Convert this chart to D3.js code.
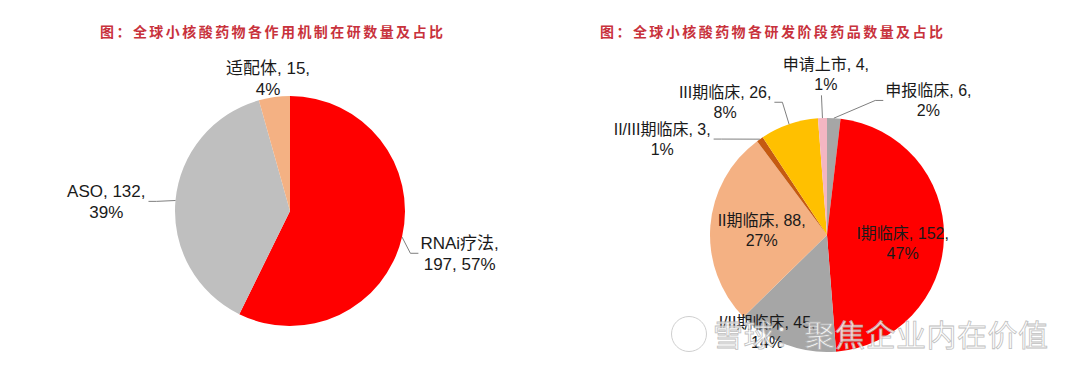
<!DOCTYPE html>
<html>
<head>
<meta charset="utf-8">
<script src="https://cdn.jsdelivr.net/npm/d3@7/dist/d3.min.js"></script>
<style>
  body { margin: 0; background: #fff; }
  svg { display: block; }
  .lbl { font-family: "Liberation Sans", Arial, "Noto Sans CJK SC", sans-serif; fill: #1a1a1a; }
  .title { font-family: "Noto Sans CJK SC", sans-serif; font-weight: bold; fill: #c8323c; }
</style>
</head>
<body>
<svg id="chart" width="1080" height="369"></svg>
<script>
// left pie: mechanism of action
var mechNames = ["RNAi疗法", "ASO", "适配体"];
var mechCounts = [197, 132, 15];
var mechPct = ["57%", "39%", "4%"];

// right pie: development stage
var stageNames = ["申报临床", "I期临床", "I/II期临床", "II期临床", "II/III期临床", "III期临床", "申请上市"];
var stageCounts = [6, 152, 45, 88, 3, 26, 4];
var stagePct = ["2%", "47%", "14%", "27%", "1%", "8%", "1%"];

var titles = ["图：全球小核酸药物各作用机制在研数量及占比", "图：全球小核酸药物各研发阶段药品数量及占比"];

var svg = d3.select("#chart");

// label layout: angle (deg, clockwise from top), distance in radii, leader type
var leftLayout = [
  {a: 104, k: 1.52, leader: "left"},
  {a: 273, k: 1.6, leader: "right"},
  {a: 350.6, k: 1.17, leader: null}
];
var rightLayout = [
  {a: 37, k: 1.44, leader: "left"},
  {a: 96, k: 0.65, leader: null},
  {a: 211.5, k: 0.98, leader: null},
  {a: 274.4, k: 0.56, leader: null},
  {a: 300.2, k: 1.63, leader: "right"},
  {a: 322.5, k: 1.43, leader: "right"},
  {a: 359.6, k: 1.37, leader: "bottom"}
];

function drawPie(opt) {
  var g = svg.append("g").attr("transform", "translate(" + opt.cx + "," + opt.cy + ")");
  var pie = d3.pie().sort(null).value(function(d) { return d; });
  var arcs = pie(opt.values);
  var arc = d3.arc().innerRadius(0).outerRadius(opt.r);
  var color = d3.scaleOrdinal().domain(opt.names).range(opt.colors);

  g.selectAll("path.slice")
    .data(arcs)
    .enter().append("path")
    .attr("class", "slice")
    .attr("d", arc)
    .attr("fill", function(d, i) { return color(opt.names[i]); });

  arcs.forEach(function(d, i) {
    var lay = opt.layout[i];
    var ang = lay.a * Math.PI / 180;
    var lx = Math.sin(ang) * lay.k * opt.r,
      ly = -Math.cos(ang) * lay.k * opt.r;
    var line1 = opt.names[i] + ", " + opt.values[i] + ",";
    var line2 = opt.pct[i];
    if (opt.joinSecond && opt.joinSecond[i]) {
      line1 = opt.names[i] + ",";
      line2 = opt.values[i] + ", " + opt.pct[i];
    }
    var t = g.append("text")
      .attr("class", "lbl")
      .attr("text-anchor", "middle")
      .style("font-size", opt.fontSize + "px");
    t.append("tspan").attr("x", lx).attr("y", ly - opt.lh / 2).attr("dy", "0.35em").text(line1);
    t.append("tspan").attr("x", lx).attr("y", ly + opt.lh / 2).attr("dy", "0.35em").text(line2);

    if (lay.leader) {
      var bb = t.node().getBBox();
      var mid = (d.startAngle + d.endAngle) / 2;
      var start = [Math.sin(mid) * opt.r, -Math.cos(mid) * opt.r];
      var end, elbow;
      if (lay.leader == "left") {
        end = [bb.x - 2, ly];
        elbow = [end[0] - 8, ly];
      } else if (lay.leader == "right") {
        end = [bb.x + bb.width + 3, ly];
        elbow = [end[0] + 8, ly];
      } else {
        end = [start[0] - 1, bb.y + bb.height + 2];
        elbow = end;
      }
      g.append("polyline")
        .attr("points", [start, elbow, end].map(function(p) { return p.join(","); }).join(" "))
        .attr("fill", "none")
        .attr("stroke", "#7f7f7f")
        .attr("stroke-width", 1);
    }
  });
}

drawPie({
  cx: 290, cy: 211, r: 115,
  names: mechNames, values: mechCounts, pct: mechPct,
  colors: ["#ff0000", "#bfbfbf", "#f4b183"],
  layout: leftLayout, fontSize: 17, lh: 21,
  joinSecond: [true, false, false]
});

drawPie({
  cx: 827, cy: 235, r: 117,
  names: stageNames, values: stageCounts, pct: stagePct,
  colors: ["#a6a6a6", "#ff0000", "#a6a6a6", "#f4b183", "#c55a11", "#ffc000", "#f4b6c2"],
  layout: rightLayout, fontSize: 16, lh: 20
});

// titles
svg.selectAll("text.title")
  .data(titles)
  .enter().append("text")
  .attr("class", "title")
  .attr("x", function(d, i) { return i == 0 ? 100 : 600; })
  .attr("y", 32)
  .attr("dy", "0.35em")
  .style("font-size", "14px")
  .style("letter-spacing", "2.45px")
  .text(function(d) { return d; });

// watermark
var wm = svg.append("g").attr("opacity", 0.85);
wm.append("circle")
  .attr("cx", 689).attr("cy", 334).attr("r", 15)
  .attr("fill", "none")
  .attr("stroke", "#fff").attr("stroke-width", 4);
wm.append("circle")
  .attr("cx", 689).attr("cy", 334).attr("r", 17.5)
  .attr("fill", "none")
  .attr("stroke", "#c8c8c8").attr("stroke-width", 1);
wm.append("path")
  .attr("d", "M681,326 L697,342 M697,326 L681,342")
  .attr("stroke", "#fff").attr("stroke-width", 3.5).attr("fill", "none");
wm.append("text")
  .attr("x", 713).attr("y", 335).attr("dy", "0.35em")
  .style("font-family", "'Noto Sans CJK SC', sans-serif")
  .style("font-size", "30px")
  .style("letter-spacing", "0.5px")
  .attr("fill", "#ffffff")
  .attr("stroke", "#b4b4b4")
  .attr("stroke-width", 0.8)
  .text("雪球：聚焦企业内在价值");
</script>
</body>
</html>
